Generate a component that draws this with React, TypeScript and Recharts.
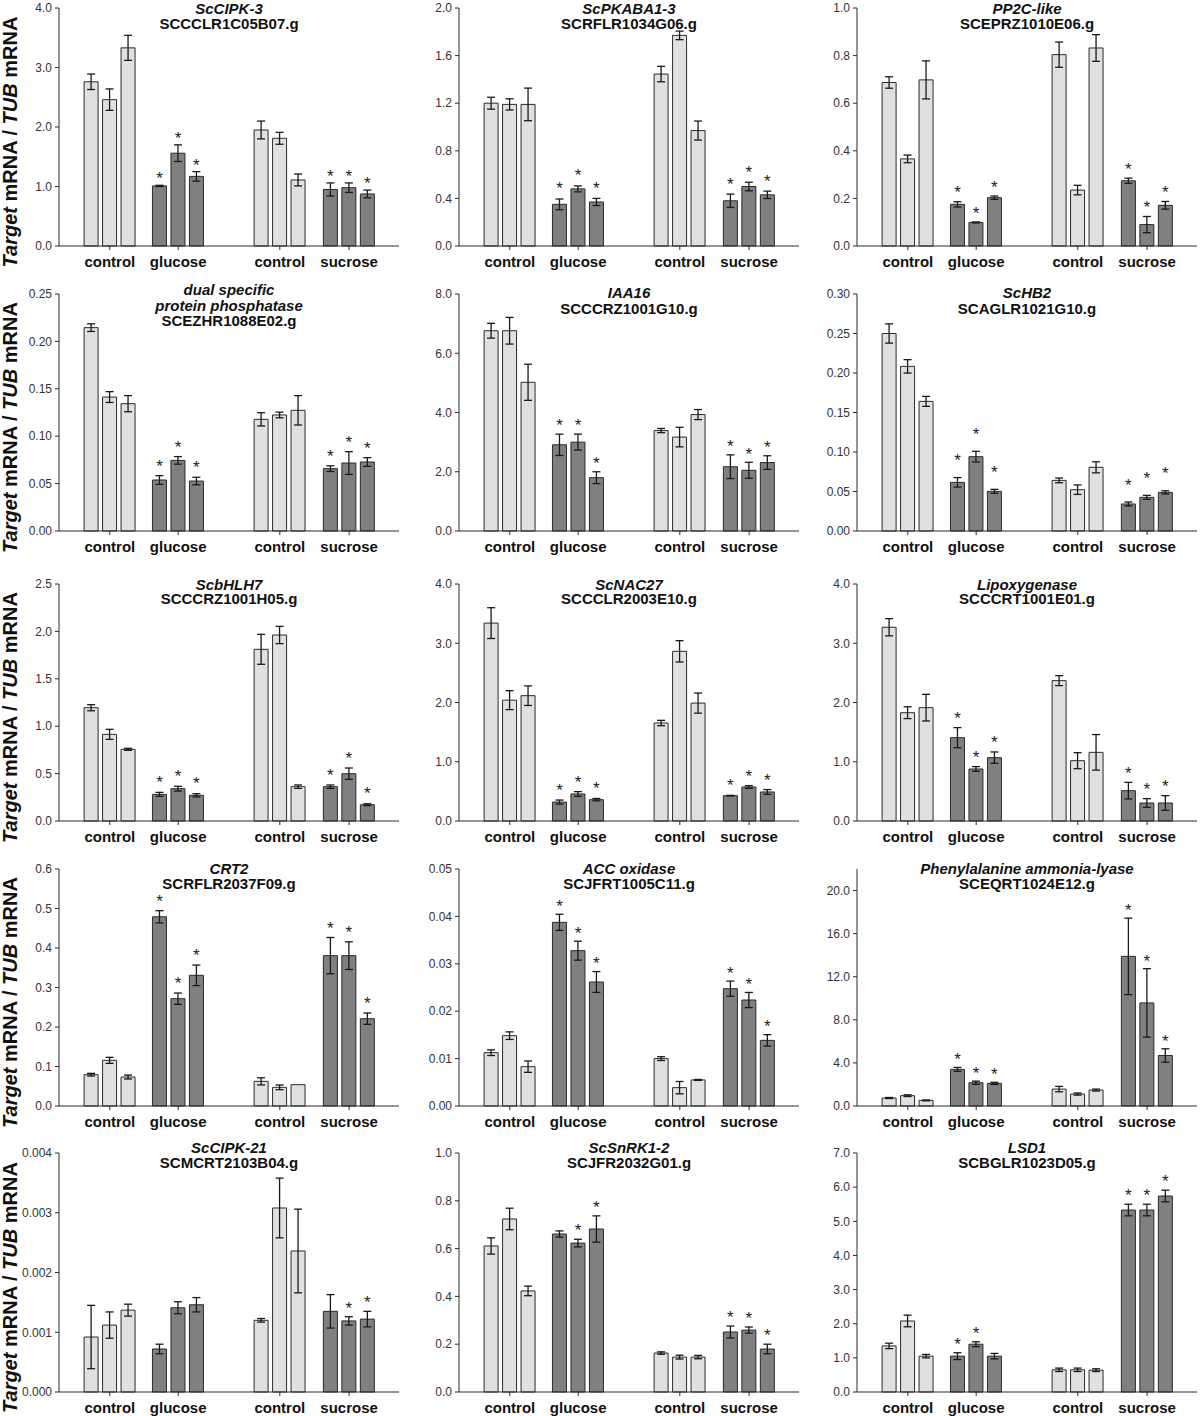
import { Bar, Cell, ComposedChart, ErrorBar, LabelList, XAxis, YAxis } from "recharts"

// four treatment groups, three bars each
const GROUPS = ["control", "glucose", "control", "sucrose"]
const TREATED = [false, true, false, true]

const STARS_TREATED = [0, 0, 0, 1, 1, 1, 0, 0, 0, 1, 1, 1]

const cipk3Mean = [2.76, 2.46, 3.33, 1.01, 1.56, 1.17, 1.95, 1.81, 1.11, 0.95, 0.98, 0.875]
const cipk3Err = [0.13, 0.18, 0.21, 0.01, 0.14, 0.08, 0.15, 0.1, 0.1, 0.11, 0.08, 0.065]

const pkabaMean = [1.2, 1.19, 1.19, 0.35, 0.48, 0.37, 1.445, 1.77, 0.97, 0.38, 0.5, 0.43]
const pkabaErr = [0.05, 0.047, 0.137, 0.045, 0.025, 0.03, 0.065, 0.036, 0.08, 0.056, 0.036, 0.031]

const pp2cMean = [0.687, 0.366, 0.698, 0.175, 0.099, 0.203, 0.804, 0.235, 0.832, 0.274, 0.09, 0.171]
const pp2cErr = [0.024, 0.016, 0.08, 0.011, 0.002, 0.007, 0.053, 0.02, 0.056, 0.011, 0.034, 0.016]

const dspMean = [0.2145, 0.1413, 0.1343, 0.0538, 0.0745, 0.0527, 0.1178, 0.1224, 0.1273, 0.0658, 0.0717, 0.0728]
const dspErr = [0.004, 0.0057, 0.0085, 0.0046, 0.004, 0.004, 0.007, 0.003, 0.0155, 0.003, 0.012, 0.0046]

const iaaMean = [6.76, 6.76, 5.02, 2.91, 3.0, 1.8, 3.39, 3.17, 3.93, 2.17, 2.05, 2.31]
const iaaErr = [0.25, 0.45, 0.61, 0.36, 0.27, 0.2, 0.07, 0.33, 0.17, 0.4, 0.27, 0.23]

const hb2Mean = [0.25, 0.2084, 0.1641, 0.0616, 0.0941, 0.0502, 0.0641, 0.0523, 0.0806, 0.0342, 0.0426, 0.0489]
const hb2Err = [0.0122, 0.0085, 0.0063, 0.006, 0.0067, 0.0025, 0.003, 0.006, 0.007, 0.0025, 0.0025, 0.002]

const bhlhMean = [1.195, 0.914, 0.756, 0.281, 0.341, 0.271, 1.811, 1.962, 0.362, 0.362, 0.499, 0.172]
const bhlhErr = [0.032, 0.053, 0.011, 0.021, 0.025, 0.017, 0.158, 0.091, 0.018, 0.018, 0.06, 0.01]

const nacMean = [3.34, 2.04, 2.115, 0.32, 0.456, 0.36, 1.654, 2.864, 1.99, 0.428, 0.574, 0.49]
const nacErr = [0.26, 0.16, 0.165, 0.034, 0.04, 0.02, 0.045, 0.18, 0.17, 0.005, 0.022, 0.04]

const loxMean = [3.27, 1.828, 1.913, 1.406, 0.878, 1.069, 2.369, 1.018, 1.159, 0.512, 0.304, 0.304]
const loxErr = [0.145, 0.1, 0.225, 0.17, 0.04, 0.096, 0.084, 0.135, 0.3, 0.14, 0.073, 0.124]

const crtMean = [0.0793, 0.1156, 0.0734, 0.479, 0.2717, 0.3308, 0.0624, 0.0473, 0.054, 0.3806, 0.3806, 0.221]
const crtErr = [0.0034, 0.0076, 0.005, 0.0155, 0.0143, 0.026, 0.009, 0.006, 0, 0.046, 0.035, 0.0144]

const accMean = [0.01125, 0.01484, 0.0083, 0.03875, 0.03277, 0.02616, 0.01, 0.00387, 0.0055, 0.02475, 0.02236, 0.01385]
const accErr = [0.0006, 0.0008, 0.0012, 0.0017, 0.002, 0.0022, 0.0004, 0.0013, 0.0001, 0.0016, 0.0016, 0.0012]

const palMean = [0.74, 0.96, 0.52, 3.4, 2.16, 2.1, 1.57, 1.11, 1.48, 13.89, 9.57, 4.69]
const palErr = [0.05, 0.08, 0.04, 0.18, 0.15, 0.1, 0.25, 0.1, 0.09, 3.55, 3.18, 0.62]

const cipk21Mean = [0.00092, 0.00112, 0.00137, 0.00072, 0.00141, 0.00146, 0.0012, 0.00308, 0.00236, 0.00135, 0.00119, 0.00122]
const cipk21Err = [0.00053, 0.00022, 0.0001, 0.00008, 0.0001, 0.00012, 0.00003, 0.0005, 0.0007, 0.00028, 0.00007, 0.00013]
const cipk21Stars = [0, 0, 0, 0, 0, 0, 0, 0, 0, 0, 1, 1]

const snrkMean = [0.611, 0.724, 0.423, 0.661, 0.623, 0.682, 0.163, 0.146, 0.146, 0.251, 0.259, 0.18]
const snrkErr = [0.034, 0.045, 0.02, 0.013, 0.016, 0.055, 0.005, 0.008, 0.007, 0.025, 0.013, 0.02]
const snrkStars = [0, 0, 0, 0, 1, 1, 0, 0, 0, 1, 1, 1]

const lsdMean = [1.35, 2.08, 1.05, 1.05, 1.4, 1.05, 0.65, 0.65, 0.64, 5.33, 5.33, 5.74]
const lsdErr = [0.08, 0.17, 0.05, 0.1, 0.07, 0.08, 0.05, 0.05, 0.04, 0.17, 0.17, 0.17]
const lsdStars = [0, 0, 0, 1, 1, 0, 0, 0, 0, 1, 1, 1]

const ticks1to4 = [0, 1, 2, 3, 4]

type Panel = {
  names: string[]
  id: string
  mean: number[]
  err: number[]
  stars: number[]
  yMax: number
  yTicks: number[]
  dec: number
  starGap: number
}

const PANELS: Panel[] = [
  { names: ["ScCIPK-3"], id: "SCCCLR1C05B07.g", mean: cipk3Mean, err: cipk3Err, stars: STARS_TREATED, yMax: 4, yTicks: ticks1to4, dec: 1, starGap: 11 },
  { names: ["ScPKABA1-3"], id: "SCRFLR1034G06.g", mean: pkabaMean, err: pkabaErr, stars: STARS_TREATED, yMax: 2, yTicks: [0, 0.4, 0.8, 1.2, 1.6, 2.0], dec: 1, starGap: 14.5 },
  { names: ["PP2C-like"], id: "SCEPRZ1010E06.g", mean: pp2cMean, err: pp2cErr, stars: STARS_TREATED, yMax: 1, yTicks: [0, 0.2, 0.4, 0.6, 0.8, 1.0], dec: 1, starGap: 13.3 },
  { names: ["dual specific", "protein phosphatase"], id: "SCEZHR1088E02.g", mean: dspMean, err: dspErr, stars: STARS_TREATED, yMax: 0.25, yTicks: [0, 0.05, 0.1, 0.15, 0.2, 0.25], dec: 2, starGap: 14 },
  { names: ["IAA16"], id: "SCCCRZ1001G10.g", mean: iaaMean, err: iaaErr, stars: STARS_TREATED, yMax: 8, yTicks: [0, 2, 4, 6, 8], dec: 1, starGap: 12.7 },
  { names: ["ScHB2"], id: "SCAGLR1021G10.g", mean: hb2Mean, err: hb2Err, stars: STARS_TREATED, yMax: 0.3, yTicks: [0, 0.05, 0.1, 0.15, 0.2, 0.25, 0.3], dec: 2, starGap: 21.5 },
  { names: ["ScbHLH7"], id: "SCCCRZ1001H05.g", mean: bhlhMean, err: bhlhErr, stars: STARS_TREATED, yMax: 2.5, yTicks: [0, 0.5, 1, 1.5, 2, 2.5], dec: 1, starGap: 14.3 },
  { names: ["ScNAC27"], id: "SCCCLR2003E10.g", mean: nacMean, err: nacErr, stars: STARS_TREATED, yMax: 4, yTicks: ticks1to4, dec: 1, starGap: 14 },
  { names: ["Lipoxygenase"], id: "SCCCRT1001E01.g", mean: loxMean, err: loxErr, stars: STARS_TREATED, yMax: 4, yTicks: ticks1to4, dec: 1, starGap: 13.5 },
  { names: ["CRT2"], id: "SCRFLR2037F09.g", mean: crtMean, err: crtErr, stars: STARS_TREATED, yMax: 0.6, yTicks: [0, 0.1, 0.2, 0.3, 0.4, 0.5, 0.6], dec: 1, starGap: 13.7 },
  { names: ["ACC oxidase"], id: "SCJFRT1005C11.g", mean: accMean, err: accErr, stars: STARS_TREATED, yMax: 0.05, yTicks: [0, 0.01, 0.02, 0.03, 0.04, 0.05], dec: 2, starGap: 12.6 },
  { names: ["Phenylalanine ammonia-lyase"], id: "SCEQRT1024E12.g", mean: palMean, err: palErr, stars: STARS_TREATED, yMax: 22, yTicks: [0, 4, 8, 12, 16, 20], dec: 1, starGap: 12 },
  { names: ["ScCIPK-21"], id: "SCMCRT2103B04.g", mean: cipk21Mean, err: cipk21Err, stars: cipk21Stars, yMax: 0.004, yTicks: [0, 0.001, 0.002, 0.003, 0.004], dec: 3, starGap: 13 },
  { names: ["ScSnRK1-2"], id: "SCJFR2032G01.g", mean: snrkMean, err: snrkErr, stars: snrkStars, yMax: 1, yTicks: [0, 0.2, 0.4, 0.6, 0.8, 1.0], dec: 1, starGap: 13 },
  { names: ["LSD1"], id: "SCBGLR1023D05.g", mean: lsdMean, err: lsdErr, stars: lsdStars, yMax: 7, yTicks: [0, 1, 2, 3, 4, 5, 6, 7], dec: 1, starGap: 13 },
]

// layout
const FONT = "'Liberation Sans', Arial, Helvetica, sans-serif"
const COL_LEFT = [0, 400, 798]
const PLOT_TOP = [8, 294, 584, 869, 1153]
const PLOT_BOTTOM = [246, 531, 821, 1106, 1392]
const TITLE_BASE = [14, 298, 589.5, 874, 1153]
const TITLE_GAP = [14.5, 15.5, 14.5, 14.5, 14.5]
const GROUP_X = [2.75, 6.45, 11.95, 15.7]
const X_MAX = 18.4
const AXIS_W = 59
const PLOT_W = 340
const LIGHT = "#e0e0e0"
const DARK = "#808080"
const INK = "#2b2b2b"

function PanelChart({ p, row, col }: { p: Panel; row: number; col: number }) {
  const rows = p.mean.map((v, i) => {
    const g = Math.floor(i / 3)
    return { x: GROUP_X[g] + (i % 3) - 1, v, err: p.err[i], dark: TREATED[g] }
  })
  const plotH = PLOT_BOTTOM[row] - PLOT_TOP[row]
  const top = 10
  const xAxisH = 32

  const renderStar = (props: any) => {
    const vb = props.viewBox ?? props
    const { x, y, width, height } = vb
    const i = props.index
    if (i == null || !p.stars[i]) return null
    const pxPerUnit = height / p.mean[i]
    const errTop = y - p.err[i] * pxPerUnit
    return (
      <text x={x + width / 2} y={errTop - p.starGap + 10} textAnchor="middle" fontSize={17} fill="#222" fontFamily={FONT}>
        *
      </text>
    )
  }

  return (
    <div style={{ position: "absolute", left: COL_LEFT[col], top: PLOT_TOP[row] - top }}>
      <ComposedChart
        width={AXIS_W + PLOT_W + 1}
        height={plotH + top + xAxisH}
        data={rows}
        margin={{ top, right: 1, bottom: 0, left: 0 }}
      >
        <XAxis
          type="number"
          dataKey="x"
          domain={[0, X_MAX]}
          ticks={GROUP_X}
          interval={0}
          height={xAxisH}
          tickSize={4}
          tickMargin={6}
          tickFormatter={(_v: number, i: number) => GROUPS[i]}
          tick={{ fontSize: 15, fontWeight: "bold", fill: "#111", fontFamily: FONT }}
          axisLine={{ stroke: INK }}
          tickLine={{ stroke: INK }}
        />
        <YAxis
          type="number"
          domain={[0, p.yMax]}
          ticks={p.yTicks}
          interval={0}
          width={AXIS_W}
          tickSize={4}
          tickMargin={3}
          tickFormatter={(v: number) => v.toFixed(p.dec)}
          tick={{ fontSize: 12, fill: "#333", fontFamily: FONT }}
          axisLine={{ stroke: INK }}
          tickLine={{ stroke: INK }}
        />
        <Bar dataKey="v" barSize={14} stroke={INK} strokeWidth={1} isAnimationActive={false}>
          {rows.map((r, i) => (
            <Cell key={i} fill={r.dark ? DARK : LIGHT} />
          ))}
          <ErrorBar dataKey="err" width={4} stroke="#1a1a1a" strokeWidth={1.3} direction="y" />
          <LabelList dataKey="v" content={renderStar} />
        </Bar>
      </ComposedChart>
    </div>
  )
}

export default function App() {
  return (
    <div style={{ position: "absolute", left: 0, top: 0, width: 1200, height: 1416, background: "#fff", overflow: "hidden" }}>
      {PANELS.map((p, k) => (
        <PanelChart key={k} p={p} row={Math.floor(k / 3)} col={k % 3} />
      ))}
      <svg width={1200} height={1416} style={{ position: "absolute", left: 0, top: 0, pointerEvents: "none" }}>
        {PANELS.map((p, k) => {
          const row = Math.floor(k / 3)
          const col = k % 3
          const cx = COL_LEFT[col] + AXIS_W + PLOT_W / 2
          const gap = TITLE_GAP[row]
          const base = TITLE_BASE[row] - (p.names.length - 1) * 3
          return (
            <text key={k} textAnchor="middle" fontSize={15} fontWeight="bold" fill="#111" fontFamily={FONT}>
              {p.names.map((n, j) => (
                <tspan key={j} x={cx} y={base + j * gap} fontStyle="italic">
                  {n}
                </tspan>
              ))}
              <tspan x={cx} y={base + p.names.length * gap}>
                {p.id}
              </tspan>
            </text>
          )
        })}
        {PLOT_TOP.map((t, r) => {
          const cy = (t + PLOT_BOTTOM[r]) / 2 + 15
          return (
            <text
              key={r}
              transform={`translate(17, ${cy}) rotate(-90)`}
              textAnchor="middle"
              fontSize={20}
              fontWeight="bold"
              fill="#111"
              fontFamily={FONT}
            >
              <tspan fontStyle="italic">Target</tspan> mRNA / <tspan fontStyle="italic">TUB</tspan> mRNA
            </text>
          )
        })}
      </svg>
    </div>
  )
}
